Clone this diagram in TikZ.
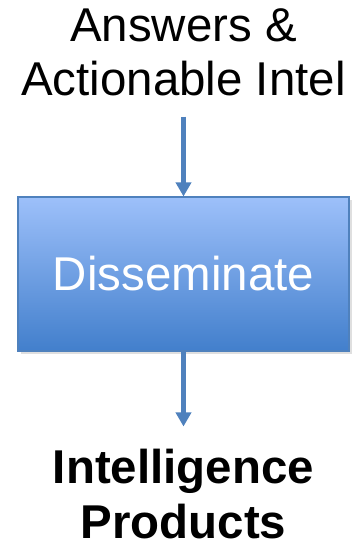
\documentclass[tikz,border=0pt]{standalone}
\usepackage{fontspec}
\setmainfont{Liberation Sans}
\usepackage{xcolor}
\usetikzlibrary{positioning,arrows.meta,shadows}

\definecolor{boxtop}{RGB}{157,192,250}
\definecolor{boxbot}{RGB}{66,127,204}
\definecolor{boxedge}{RGB}{79,129,189}
\definecolor{flowblue}{RGB}{79,129,189}

\begin{document}
\begin{tikzpicture}[
  every node/.style={font=\fontsize{27}{31}\selectfont},
  >={Triangle[width=0.3cm,length=0.28cm]}
]
% Scale: 1px = 0.02cm  => 353x546 px = 7.06x10.92 cm
\useasboundingbox (0,0) rectangle (7.06,-10.92);

%% --- Step box ------------------------------------------------
\node[draw=boxedge, line width=0.6pt,
      top color=boxtop, bottom color=boxbot, text=white,
      minimum width=6.62cm, minimum height=3.08cm,
      drop shadow={opacity=0.25, shadow xshift=1.5pt, shadow yshift=-1.5pt}]
     (dissem) at (3.67,-5.48) {Disseminate};

%% --- Input and output texts ----------------------------------
\node[align=center, inner sep=0pt] (answers) at (3.67,-1.05)
     {Answers \&\\Actionable Intel};
\node[align=center, inner sep=0pt, font=\fontsize{27}{31}\selectfont\bfseries]
     (products) at (3.67,-9.88) {Intelligence\\Products};

%% --- Flow arrows ---------------------------------------------
\draw[->, flowblue, line width=3pt, shorten <=0.4cm] (answers) -- (dissem);
\draw[->, flowblue, line width=3pt, shorten >=0.45cm] (dissem) -- (products);

\end{tikzpicture}
\end{document}
